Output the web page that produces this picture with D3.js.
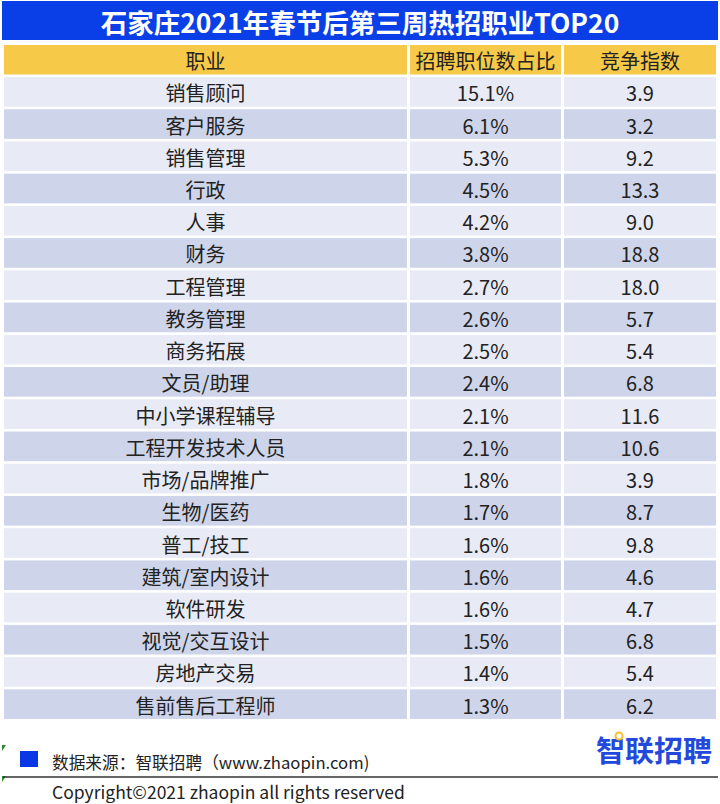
<!DOCTYPE html>
<html>
<head>
<meta charset="utf-8">
<script src="https://cdn.jsdelivr.net/npm/d3@7"></script>
<style>
  body { margin: 0; background: #fff; }
  svg text { font-family: "Noto Sans CJK SC", "Noto Sans", sans-serif; }
</style>
</head>
<body>
<div id="chart"></div>
<script>
const TITLE = "石家庄2021年春节后第三周热招职业TOP20";
const HEADERS = ["职业", "招聘职位数占比", "竞争指数"];
const JOBS = ["销售顾问", "客户服务", "销售管理", "行政", "人事", "财务", "工程管理", "教务管理",
              "商务拓展", "文员/助理", "中小学课程辅导", "工程开发技术人员", "市场/品牌推广", "生物/医药",
              "普工/技工", "建筑/室内设计", "软件研发", "视觉/交互设计", "房地产交易", "售前售后工程师"];
const SHARES = [15.1, 6.1, 5.3, 4.5, 4.2, 3.8, 2.7, 2.6, 2.5, 2.4, 2.1, 2.1, 1.8, 1.7, 1.6, 1.6, 1.6, 1.5, 1.4, 1.3];
const INDEX = [3.9, 3.2, 9.2, 13.3, 9.0, 18.8, 18.0, 5.7, 5.4, 6.8, 11.6, 10.6, 3.9, 8.7, 9.8, 4.6, 4.7, 6.8, 5.4, 6.2];
const SOURCE = "数据来源：智联招聘（www.zhaopin.com)";
const COPYRIGHT = "Copyright©2021 zhaopin all rights reserved";

const COLORS = {title: "#0a3ee6", header: "#f7c948", odd: "#e8ebf5", even: "#ced5ea", text: "#222"};

const W = 720, H = 804;
// column edges (left, right)
const COLS = [[4, 407], [410, 561], [564, 716]];

const svg = d3.select("#chart").append("svg")
    .attr("width", W)
    .attr("height", H);

// title bar
svg.append("rect")
    .attr("x", 2).attr("y", 1).attr("width", 716).attr("height", 39)
    .attr("fill", COLORS.title);
svg.append("text")
    .attr("x", W / 2).attr("y", 21)
    .attr("text-anchor", "middle").attr("dominant-baseline", "central")
    .attr("fill", "#fff").attr("font-size", 26.5).attr("font-weight", "bold")
    .text(TITLE);

// header row
const header = svg.append("g");
HEADERS.forEach((h, i) => {
    const [x0, x1] = COLS[i];
    header.append("rect")
        .attr("x", x0).attr("y", 45).attr("width", x1 - x0).attr("height", 29.5)
        .attr("fill", COLORS.header);
    header.append("text")
        .attr("x", (x0 + x1) / 2).attr("y", 60.5)
        .attr("text-anchor", "middle").attr("dominant-baseline", "central")
        .attr("font-size", 20).attr("fill", "#222")
        .text(h);
});

// body rows
const y = d3.scaleBand()
    .domain(JOBS)
    .range([77, 77 + 32.1 * JOBS.length])
    .paddingInner(0.08)
    .paddingOuter(0);

const rows = JOBS.map((job, i) => ({job: job, i: i, cells: [job, SHARES[i].toFixed(1) + "%", INDEX[i].toFixed(1)]}));

const rowG = svg.selectAll("g.row")
    .data(rows)
    .enter()
    .append("g")
        .attr("class", "row")
        .attr("transform", d => "translate(0," + y(d.job) + ")");

COLS.forEach((c, ci) => {
    rowG.append("rect")
        .attr("x", c[0]).attr("y", 0)
        .attr("width", c[1] - c[0]).attr("height", y.bandwidth())
        .attr("fill", d => d.i % 2 === 0 ? COLORS.odd : COLORS.even);
    rowG.append("text")
        .attr("x", (c[0] + c[1]) / 2).attr("y", y.bandwidth() / 2 + 1)
        .attr("text-anchor", "middle").attr("dominant-baseline", "central")
        .attr("font-size", 20).attr("fill", COLORS.text)
        .text(d => d.cells[ci]);
});

// footer
const foot = svg.append("g");
foot.append("path").attr("d", "M2,745 L6,745 L2,751 Z").attr("fill", "#2e8b2e");
foot.append("path").attr("d", "M2,776 L6,776 L2,782 Z").attr("fill", "#2e8b2e");
foot.append("rect")
    .attr("x", 20).attr("y", 751).attr("width", 18).attr("height", 16)
    .attr("fill", "#0a36e6");
foot.append("text")
    .attr("x", 52).attr("y", 762)
    .attr("dominant-baseline", "central")
    .attr("font-size", 16.7).attr("fill", "#222")
    .text(SOURCE);
foot.append("line")
    .attr("x1", 3).attr("x2", 718).attr("y1", 777).attr("y2", 777)
    .attr("stroke", "#333").attr("stroke-width", 1.6);
foot.append("text")
    .attr("x", 52).attr("y", 791)
    .attr("dominant-baseline", "central")
    .attr("font-size", 17.5).attr("fill", "#222")
    .text(COPYRIGHT);

// logo
foot.append("text")
    .attr("x", 712).attr("y", 749)
    .attr("text-anchor", "end").attr("dominant-baseline", "central")
    .attr("font-size", 29).attr("font-weight", "bold").attr("fill", "#2348dc")
    .text("智联招聘");
foot.append("circle")
    .attr("cx", 619).attr("cy", 736).attr("r", 3.5)
    .attr("fill", "#fff").attr("stroke", "#f5c12e").attr("stroke-width", 2);
</script>
</body>
</html>
